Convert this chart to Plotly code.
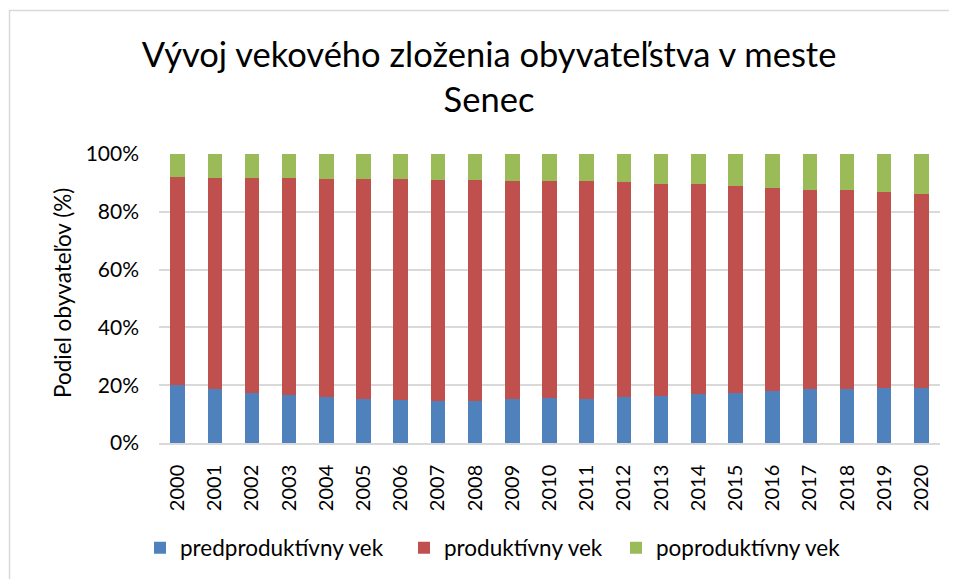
import plotly.graph_objects as go

years = [str(y) for y in range(2000, 2021)]
predproduktivny = [20.0, 18.6, 17.2, 16.5, 15.8, 15.1, 14.8, 14.7, 14.7, 15.1, 15.4,
                   15.2, 15.9, 16.3, 17.1, 17.4, 17.9, 18.6, 18.8, 19.2, 18.9]
produktivny = [71.9, 73.0, 74.4, 75.1, 75.6, 76.1, 76.4, 76.4, 76.4, 75.6, 75.3,
               75.3, 74.3, 73.4, 72.4, 71.4, 70.5, 69.1, 68.6, 67.5, 67.1]
poproduktivny = [8.1, 8.4, 8.4, 8.4, 8.6, 8.8, 8.8, 8.9, 8.9, 9.3, 9.3,
                 9.5, 9.8, 10.3, 10.5, 11.2, 11.6, 12.3, 12.6, 13.3, 14.0]
series_names = ["predproduktívny vek", "produktívny vek", "poproduktívny vek"]
colors = ["#4F81BD", "#C0504D", "#9BBB59"]

FONT = "Lato"
OFF = 8  # page body margin
W, H = 957 - OFF, 579 - OFF
L, T = 159 - OFF, 154 - OFF
R = W - (940 - OFF)
B = H - (443 - OFF)
pw, ph = W - L - R, H - T - B

def px_x(p):
    return (p - OFF - L) / pw

def px_y(p):
    return (H - B - (p - OFF)) / ph

legend_w = [219, 167, 200]

fig = go.Figure()
for name, vals, c, lw in zip(series_names, [predproduktivny, produktivny, poproduktivny], colors, legend_w):
    fig.add_trace(go.Bar(x=years, y=vals, name=name, legendwidth=lw,
                         marker=dict(color=c, line=dict(width=0))))

fig.update_layout(
    width=W, height=H,
    barmode="stack", bargap=0.61,
    plot_bgcolor="white", paper_bgcolor="white",
    margin=dict(l=L, r=R, t=T, b=B, autoexpand=False),
    font=dict(family=FONT, color="#000000"),
    title=dict(text="Vývoj vekového zloženia obyvateľstva v meste<br>Senec",
               font=dict(family=FONT, size=34.5, color="#000000"),
               x=(489 - OFF) / W, xanchor="center", y=1 - (67 - OFF) / H, yanchor="top",
               yref="container", xref="container"),
    showlegend=True,
    legend=dict(orientation="h", x=px_x(140), xanchor="left", xref="paper",
                y=px_y(548), yanchor="middle", font=dict(size=22.5, family=FONT, color="#000000"),
                traceorder="normal"),
    xaxis=dict(type="category", tickangle=-90, tickfont=dict(size=20, family=FONT),
               showgrid=False, showline=True, linecolor="#D9D9D9", linewidth=1.5,
               ticks="", ticklabelstandoff=12),
    yaxis=dict(range=[0, 100], dtick=20, ticksuffix="%", tickfont=dict(size=21, family=FONT),
               showgrid=True, gridcolor="#D9D9D9", gridwidth=1.5, zeroline=False,
               showline=False, ticks="", ticklabelstandoff=19),
    annotations=[dict(text="Podiel obyvateľov (%)", textangle=-90, xref="paper", yref="paper",
                      x=px_x(62), y=px_y(293), xanchor="center", yanchor="middle",
                      showarrow=False, font=dict(size=22.5, family=FONT, color="#000000"))],
    shapes=[dict(type="rect", xref="paper", yref="paper",
                 x0=px_x(9.5), x1=px_x(990), y0=px_y(620), y1=px_y(10.5),
                 line=dict(color="#D9D9D9", width=1.5), fillcolor="rgba(0,0,0,0)", layer="below")],
)

fig.write_html("out.html")
